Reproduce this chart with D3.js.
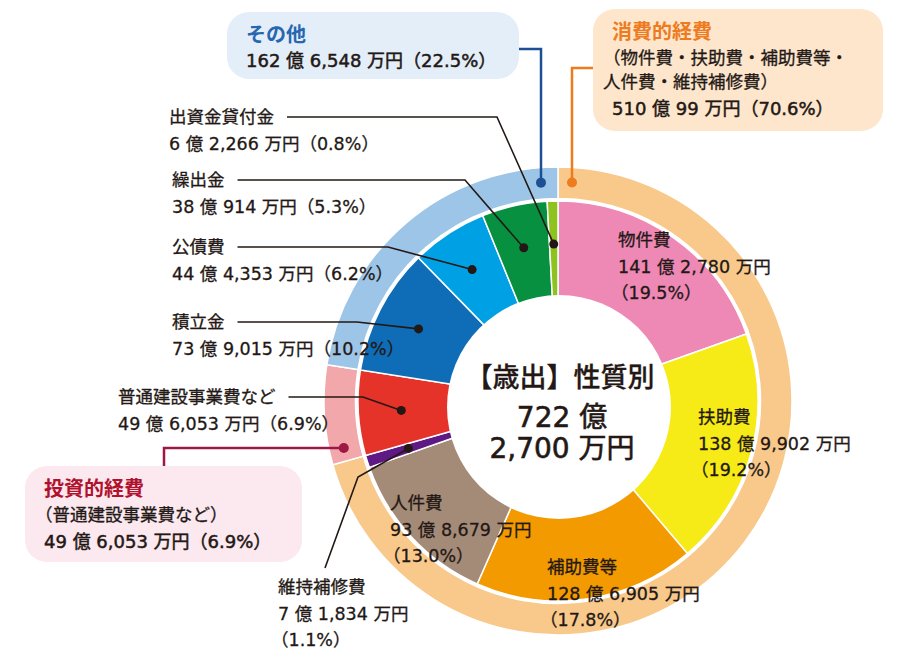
<!DOCTYPE html>
<html>
<head>
<meta charset="utf-8">
<script src="https://cdn.jsdelivr.net/npm/d3@7"></script>
<style>
  body { margin: 0; background: #fff; }
  svg { display: block; font-family: "Noto Sans CJK JP", "Noto Sans", sans-serif; }
  .lbl { fill: #231815; stroke: #231815; stroke-width: 0.3; font-size: 17.5px;
         font-family: "DejaVu Sans", "Noto Sans CJK JP", sans-serif; }
  .leader { fill: none; stroke: #231815; stroke-width: 1.6; }
</style>
</head>
<body>
<script>
(function(){
    //inner ring: spending by type (万円)
    var categories = ["物件費", "扶助費", "補助費等", "人件費", "維持補修費",
        "普通建設事業費など", "積立金", "公債費", "繰出金", "出資金貸付金"];
    var values = [1412780, 1389902, 1286905, 938679, 71834,
        496053, 739015, 444353, 380914, 62266];
    var amountLabels = ["141 億 2,780 万円", "138 億 9,902 万円", "128 億 6,905 万円",
        "93 億 8,679 万円", "7 億 1,834 万円", "49 億 6,053 万円", "73 億 9,015 万円",
        "44 億 4,353 万円", "38 億 914 万円", "6 億 2,266 万円"];
    var pctLabels = ["19.5%", "19.2%", "17.8%", "13.0%", "1.1%",
        "6.9%", "10.2%", "6.2%", "5.3%", "0.8%"];
    var colors = ["#ee88b5", "#f6eb16", "#f39a00", "#a48b78", "#5f1985",
        "#e63329", "#0e6db6", "#00a0e4", "#079040", "#8dc21f"];

    //outer ring: groups
    var groupNames = ["消費的経費", "投資的経費", "その他"];
    var groupValues = [5100099, 496053, 1626548];
    var groupAmountLabels = ["510 億 99 万円", "49 億 6,053 万円", "162 億 6,548 万円"];
    var groupPctLabels = ["70.6%", "6.9%", "22.5%"];
    var groupColors = ["#f8c98b", "#f2a7ab", "#9dc5e8"];

    var total = ["722 億", "2,700 万円"];

    var width = 912, height = 664;
    var cx = 558, cy = 401;

    var svg = d3.select("body").append("svg")
        .attr("width", width)
        .attr("height", height);

    var pie = d3.pie().sort(null).value(function(d){ return d; });
    var innerArcs = pie(values);
    var outerArcs = pie(groupValues);

    var arcInner = d3.arc().innerRadius(100).outerRadius(200);
    var arcOuter = d3.arc().innerRadius(202.5).outerRadius(234);

    var g = svg.append("g").attr("transform", "translate(" + cx + "," + cy + ")");

    g.selectAll(".outer").data(outerArcs).enter().append("path")
        .attr("class", "outer")
        .attr("d", arcOuter)
        .style("fill", function(d, i){ return groupColors[i]; })
        .style("stroke", "#fff").style("stroke-width", 1.5);

    g.selectAll(".slice").data(innerArcs).enter().append("path")
        .attr("class", "slice")
        .attr("d", arcInner)
        .style("fill", function(d, i){ return colors[i]; })
        .style("stroke", "#fff").style("stroke-width", 1.5);

    //white hole (sits a little lower than the ring centre in the original)
    svg.append("circle").attr("cx", 559).attr("cy", 407).attr("r", 112).style("fill", "#fff");

    //centre text
    var ct = svg.append("g").attr("text-anchor", "middle")
        .style("fill", "#231815").style("stroke", "#231815");
    ct.append("text").attr("x", 560).attr("y", 387)
        .style("font-size", "27px").style("font-weight", 500).style("stroke-width", 0.3)
        .text("【歳出】性質別");
    ct.append("text").attr("x", 562).attr("y", 427)
        .style("font-size", "28px").style("stroke-width", 0.6)
        .style("font-family", "'DejaVu Sans', 'Noto Sans CJK JP'")
        .text(total[0]);
    ct.append("text").attr("x", 562).attr("y", 458)
        .style("font-size", "28px").style("stroke-width", 0.6)
        .style("font-family", "'DejaVu Sans', 'Noto Sans CJK JP'")
        .text(total[1]);

    //point on a slice at given radius
    function polar(angle, r){
        return [cx + r * Math.sin(angle), cy - r * Math.cos(angle)];
    }
    function mid(a){ return (a.startAngle + a.endAngle) / 2; }

    //lines: [text, x offset]
    function multiLine(x, y, lines){
        var t = svg.append("text").attr("class", "lbl").attr("x", x).attr("y", y);
        lines.forEach(function(s, k){
            t.append("tspan").attr("x", x + s[1]).attr("dy", k === 0 ? 0 : 26.5).text(s[0]);
        });
        return t;
    }

    //labels inside the big slices [index, x, baseline]
    var insideLayout = [[0, 618, 246], [1, 698, 423], [2, 547, 573], [3, 390, 509]];
    insideLayout.forEach(function(p){
        var i = p[0];
        multiLine(p[1], p[2], [[categories[i], 0], [amountLabels[i], 0], ["（" + pctLabels[i] + "）", -7]]);
    });

    //labels with leader lines [index, text x, baseline, elbow x]
    var leaderLayout = [[9, 169, 123, 497], [8, 172, 186, 465], [7, 172, 253, 388],
        [6, 172, 328, 357], [5, 118, 403, 363]];
    leaderLayout.forEach(function(p){
        var i = p[0], y = p[2] - 6;
        multiLine(p[1], p[2], [[categories[i], 0], [amountLabels[i] + "（" + pctLabels[i] + "）", 0]]);
        var nameW = 17.5 * categories[i].length;
        var dot = polar(mid(innerArcs[i]), 157);
        svg.append("path").attr("class", "leader")
            .attr("d", d3.line()([[p[1] + nameW + 13, y], [p[3], y], dot]));
        svg.append("circle").attr("cx", dot[0]).attr("cy", dot[1]).attr("r", 4.5).style("fill", "#231815");
    });

    //維持補修費 below the ring
    multiLine(278, 593, [[categories[4], 0], [amountLabels[4], 0], ["（" + pctLabels[4] + "）", -7]]);
    var dot4 = polar(mid(innerArcs[4]), 157);
    svg.append("path").attr("class", "leader")
        .attr("d", d3.line()([[325, 568], [358, 477], dot4]));
    svg.append("circle").attr("cx", dot4[0]).attr("cy", dot4[1]).attr("r", 4.5).style("fill", "#231815");

    //group boxes
    var boxes = [
        {i: 0, x: 593, y: 9, w: 290, h: 122, fill: "#fde6cc", title: "#ee7b1e", line: "#ee7b1e",
         sub: ["（物件費・扶助費・補助費等・", "人件費・維持補修費）"], dotAngle: 3.7,
         path: function(d){ return [[593, 68], [572, 68], d]; }},
        {i: 1, x: 25, y: 466, w: 277, h: 96, fill: "#fce8ef", title: "#b0112e", line: "#9e1846",
         sub: ["（普通建設事業費など）"], dotAngle: 258,
         path: function(d){ return [[164, 466], [164, 448], d]; }},
        {i: 2, x: 227, y: 12, w: 292, h: 67, fill: "#e3eef8", title: "#2767b0", line: "#1c4f93",
         sub: [], dotAngle: -4.4,
         path: function(d){ return [[519, 49], [541, 49], d]; }}
    ];
    boxes.forEach(function(b){
        svg.append("rect").attr("x", b.x).attr("y", b.y).attr("width", b.w).attr("height", b.h)
            .attr("rx", 22).style("fill", b.fill);
        var tx = b.x + 19, ty = b.y + 30;
        svg.append("text").attr("x", tx).attr("y", ty)
            .style("font-size", "20px").style("font-weight", 700).style("fill", b.title)
            .text(groupNames[b.i]);
        b.sub.forEach(function(s, k){
            svg.append("text").attr("class", "lbl").attr("x", tx - 9).attr("y", ty + 25 + k * 24)
                .style("font-size", "17.5px").text(s);
        });
        svg.append("text").attr("class", "lbl").attr("x", tx).attr("y", ty + 25 + b.sub.length * 24 + (b.sub.length ? 3 : 0))
            .style("font-size", "18px").style("stroke-width", 0.5)
            .text(groupAmountLabels[b.i] + "（" + groupPctLabels[b.i] + "）");
        var a = b.dotAngle * Math.PI / 180;
        var d = polar(a, 219);
        d = b.i === 1 ? [d[0], 448] : [b.i === 0 ? 572 : 541, d[1]];
        svg.append("path").attr("d", d3.line()(b.path(d)))
            .style("fill", "none").style("stroke", b.line).style("stroke-width", 2.5);
        svg.append("circle").attr("cx", d[0]).attr("cy", d[1]).attr("r", 5).style("fill", b.line);
    });
})();
</script>
</body>
</html>
